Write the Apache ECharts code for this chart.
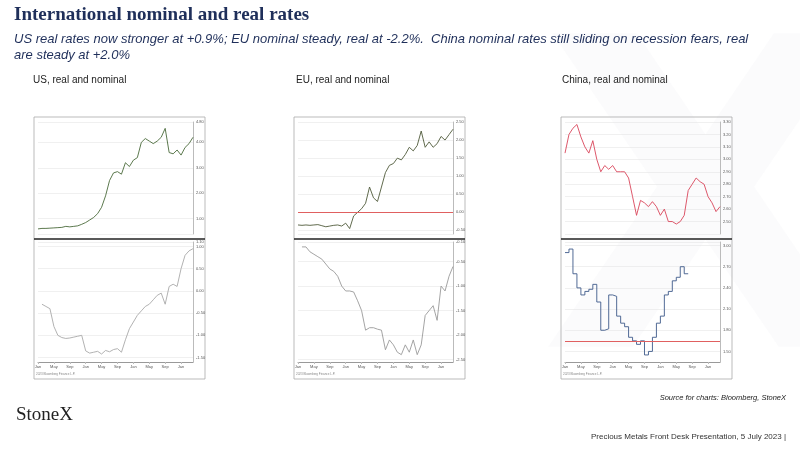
<!DOCTYPE html>
<html><head><meta charset="utf-8">
<script src="https://cdn.jsdelivr.net/npm/echarts@6/dist/echarts.min.js"></script>
<style>html,body{margin:0;padding:0;background:#fff}#c{width:800px;height:450px}</style>
</head><body><div id="c"></div>
<script>
const months = ["Jan","Feb","Mar","Apr","May","Jun","Jul","Aug","Sep","Oct","Nov","Dec","Jan","Feb","Mar","Apr","May","Jun","Jul","Aug","Sep","Oct","Nov","Dec","Jan","Feb","Mar","Apr","May","Jun","Jul","Aug","Sep","Oct","Nov","Dec","Jan","Feb","Mar","Apr"];
const usNominal = [0.6,0.62,0.62,0.63,0.64,0.65,0.66,0.7,0.68,0.7,0.72,0.78,0.85,0.95,1.05,1.2,1.45,1.9,2.5,2.8,2.85,2.75,3.2,3.05,3.3,3.4,4.0,4.15,4.05,3.95,4.05,4.2,4.55,3.6,3.55,3.7,3.5,3.8,3.95,4.2];
const usReal = [null,-0.3,-0.35,-0.4,-0.8,-1.0,-1.05,-1.07,-1.06,-1.04,-1.02,-1.0,-1.35,-1.4,-1.38,-1.36,-1.42,-1.34,-1.37,-1.32,-1.3,-1.38,-1.1,-0.85,-0.7,-0.55,-0.45,-0.35,-0.3,-0.2,-0.1,-0.05,-0.3,0.1,0.15,0.1,0.5,0.8,0.9,0.95];
const euNominal = [-0.35,-0.36,-0.35,-0.36,-0.35,-0.34,-0.37,-0.4,-0.38,-0.36,-0.35,-0.38,-0.3,-0.45,-0.1,0.0,0.1,0.25,0.7,0.4,0.3,0.7,1.1,1.3,1.35,1.5,1.45,1.6,1.8,1.7,1.85,2.25,1.8,1.95,1.8,1.9,2.1,2.0,2.15,2.3];
const euReal = [null,-0.2,-0.2,-0.3,-0.35,-0.4,-0.45,-0.55,-0.65,-0.7,-0.8,-1.0,-1.1,-1.1,-1.12,-1.3,-1.5,-1.9,-1.85,-1.85,-1.88,-1.9,-2.3,-2.1,-2.2,-2.35,-2.4,-2.2,-2.35,-2.1,-2.4,-2.2,-1.6,-1.5,-1.4,-1.7,-1.0,-1.1,-0.8,-0.6];
const cnNominal = [3.05,3.2,3.25,3.28,3.18,3.1,3.05,3.15,3.0,2.9,2.95,2.92,2.95,2.9,2.9,2.9,2.85,2.7,2.55,2.67,2.65,2.62,2.66,2.62,2.55,2.6,2.5,2.5,2.48,2.5,2.55,2.75,2.8,2.85,2.82,2.8,2.7,2.65,2.58,2.62];
const cnReal = [2.9,2.95,2.6,2.4,2.3,2.35,2.38,2.45,2.2,1.8,1.82,2.3,2.28,2.0,1.9,1.85,1.7,1.65,1.6,1.65,1.45,1.5,1.7,1.9,2.0,2.3,2.35,2.5,2.55,2.7,2.6];

const panels = [
 {left:38, upper:usNominal, lower:usReal, yU:[0.4,4.8], yL:[-1.6,1.1], cU:'#4a6a3a', cL:'#a9a9a9', stepL:false},
 {left:298, upper:euNominal, lower:euReal, yU:[-0.6,2.5], yL:[-2.55,-0.1], cU:'#4f5a3a', cL:'#9a9a9a', refU:0, stepL:false},
 {left:565, upper:cnNominal, lower:cnReal.concat(Array(9).fill(null)), yU:[2.4,3.3], yL:[1.35,3.05], cU:'#d9455a', cL:'#3e5a8a', refL:1.65, stepL:'end'}
];
const grids=[], xAxes=[], yAxes=[], series=[], graphics=[];
panels.forEach((p,i)=>{
  const w=155;
  [[122,112,p.upper,p.yU,p.cU,p.refU,false],[242,120,p.lower,p.yL,p.cL,p.refL,p.stepL]].forEach((g,j)=>{
    const idx=grids.length;
    grids.push({left:p.left, top:g[0], width:w, height:g[1]});
    xAxes.push({type:'category', gridIndex:idx, data:months, boundaryGap:false,
      axisLine:{show:j==1,onZero:false,lineStyle:{color:'#999'}}, axisTick:{show:j==1,length:2,lineStyle:{color:'#bbb'}},
      axisLabel:{show:j==1,fontSize:4,color:'#555',interval:3,margin:3}});
    yAxes.push({type:'value', gridIndex:idx, position:'right', min:g[3][0], max:g[3][1], splitNumber:6,
      axisLine:{show:true,lineStyle:{color:'#bbb'}}, axisTick:{show:false},
      axisLabel:{fontSize:4,color:'#555',margin:3,showMinLabel:false,formatter:v=>v.toFixed(2)},
      splitLine:{lineStyle:{color:'#e6e6e6',width:0.6}}});
    const s={type:'line', xAxisIndex:idx, yAxisIndex:idx, data:g[2], symbol:'none', step:g[6],
      lineStyle:{color:g[4],width:0.9}, connectNulls:false};
    if(g[5]!==undefined) s.markLine={silent:true,symbol:'none',label:{show:false},data:[{yAxis:g[5]}],lineStyle:{color:'#e06060',width:1,type:'solid'}};
    series.push(s);
  });
  graphics.push({type:'rect',shape:{x:p.left-4,y:117,width:w+16,height:262},style:{fill:'none',stroke:'#aaa',lineWidth:0.8}});
  graphics.push({type:'line',shape:{x1:p.left-4,y1:239,x2:p.left+w+12,y2:239},style:{stroke:'#222',lineWidth:1.5}});
  graphics.push({type:'text',left:p.left-2,top:373,style:{text:'2023 Bloomberg Finance L.P.',fontSize:3,fill:'#888'}});
});
graphics.push({type:'text',left:540,top:20,z:-1,style:{text:'X',fontSize:430,fontWeight:'bold',fill:'rgba(225,228,238,0.15)',fontFamily:'DejaVu Sans'}});
graphics.push({type:'text',left:14,top:6,style:{text:'International nominal and real rates',fontSize:19,fontWeight:'bold',fill:'#1f2f5a',fontFamily:'Liberation Serif'}});
graphics.push({type:'text',left:14,top:31,style:{text:'US real rates now stronger at +0.9%; EU nominal steady, real at -2.2%.  China nominal rates still sliding on recession fears, real\nare steady at +2.0%',fontSize:13,fontStyle:'italic',fill:'#1f2f5a',lineHeight:16,fontFamily:'Liberation Sans'}});
[['US, real and nominal',33],['EU, real and nominal',296],['China, real and nominal',562]].forEach(t=>
 graphics.push({type:'text',left:t[1],top:75,style:{text:t[0],fontSize:10,fill:'#222',fontFamily:'Liberation Sans'}}));
graphics.push({type:'text',left:16,top:406,style:{text:'StoneX',fontSize:19,fill:'#222',fontFamily:'Liberation Serif'}});
graphics.push({type:'text',right:14,top:394,style:{text:'Source for charts: Bloomberg, StoneX',fontSize:7.5,fontStyle:'italic',fill:'#222',fontFamily:'Liberation Sans'}});
graphics.push({type:'text',right:14,top:433,style:{text:'Precious Metals Front Desk Presentation, 5 July 2023 |',fontSize:8,fill:'#333',fontFamily:'Liberation Sans'}});

const chart=echarts.init(document.getElementById('c'));
chart.setOption({animation:false,grid:grids,xAxis:xAxes,yAxis:yAxes,series:series,graphic:graphics});
</script></body></html>
